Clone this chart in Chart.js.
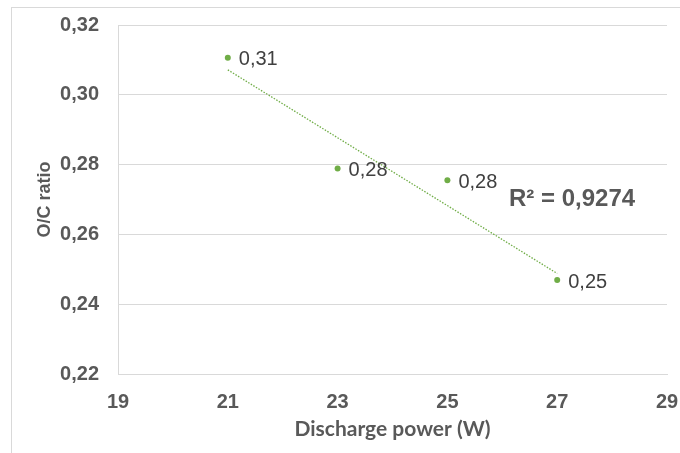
<!DOCTYPE html>
<html>
<head>
<meta charset="utf-8">
<script src="https://cdn.jsdelivr.net/npm/chart.js@4"></script>
<style>
    html, body { margin: 0; padding: 0; background: #fff; overflow: hidden; }
    #wrap { width: 680px; height: 453px; position: relative; }
</style>
</head>
<body>
<div id="wrap"><canvas id="chart" width="680" height="453"></canvas></div>
<script>
// ======================
// Данные
// ======================

const powerW = [21, 23, 25, 27];
const ocRatio = [0.3106, 0.2789, 0.2755, 0.2469];
const yTicks = [0.22, 0.24, 0.26, 0.28, 0.30, 0.32];
const xTicks = [19, 21, 23, 25, 27, 29];
const r2Text = 'R² = 0,9274';

const green = '#70ad47';
const gridGray = '#d9d9d9';

// Линейный тренд (МНК) по точкам
function linearTrend(xs, ys) {
    const n = xs.length;
    const mx = xs.reduce((a, b) => a + b, 0) / n;
    const my = ys.reduce((a, b) => a + b, 0) / n;
    let sxy = 0, sxx = 0;
    for (let i = 0; i < n; i++) {
        sxy += (xs[i] - mx) * (ys[i] - my);
        sxx += (xs[i] - mx) * (xs[i] - mx);
    }
    const k = sxy / sxx;
    const b = my - k * mx;
    return xs.map(x => ({ x: x, y: k * x + b }));
}

function comma(v) {
    return v.toFixed(2).replace('.', ',');
}

// ======================
// Плагины: рамка, подписи точек, R²
// ======================

const framePlugin = {
    id: 'frame',
    beforeDraw(chart) {
        const ctx = chart.ctx;
        ctx.save();
        ctx.strokeStyle = gridGray;
        ctx.lineWidth = 1;
        ctx.strokeRect(11.5, 7.5, 720, 500);
        ctx.restore();
    }
};

const labelsPlugin = {
    id: 'pointLabels',
    afterDatasetsDraw(chart) {
        const ctx = chart.ctx;
        const meta = chart.getDatasetMeta(0);
        ctx.save();
        ctx.font = '20px "Liberation Sans", Arial, sans-serif';
        ctx.fillStyle = '#404040';
        ctx.textAlign = 'left';
        ctx.textBaseline = 'middle';
        meta.data.forEach((pt, i) => {
            ctx.fillText(comma(ocRatio[i]), pt.x + 11, pt.y + 2);
        });
        // R²
        ctx.font = 'bold 24px "Liberation Sans", Arial, sans-serif';
        ctx.fillStyle = '#595959';
        ctx.fillText(r2Text, 509, 199);
        ctx.restore();
    }
};

// ======================
// График
// ======================

const tickFont = { family: '"Liberation Sans", Arial, sans-serif', size: 20, weight: 'bold' };

new Chart(document.getElementById('chart').getContext('2d'), {
    type: 'scatter',
    data: {
        datasets: [
            {
                data: powerW.map((x, i) => ({ x: x, y: ocRatio[i] })),
                backgroundColor: green,
                borderColor: green,
                pointRadius: 3,
                pointBorderWidth: 0,
                order: 1
            },
            {
                type: 'line',
                data: linearTrend(powerW, ocRatio).filter((p, i, a) => i === 0 || i === a.length - 1),
                borderColor: green,
                borderWidth: 1.3,
                borderDash: [1.5, 1.5],
                pointRadius: 0,
                fill: false,
                order: 2
            }
        ]
    },
    options: {
        responsive: false,
        animation: false,
        layout: { padding: { top: 25, right: 13, left: 0, bottom: 0 } },
        plugins: {
            legend: { display: false },
            tooltip: { enabled: false }
        },
        scales: {
            x: {
                type: 'linear',
                min: 19,
                max: 29,
                afterBuildTicks: s => { s.ticks = xTicks.map(v => ({ value: v })); },
                afterFit: s => { s.height = 79; s.paddingLeft = 0; s.paddingRight = 0; },
                grid: { display: false },
                border: { display: true, color: gridGray },
                ticks: { font: tickFont, color: '#595959', padding: 8, maxRotation: 0 },
                title: {
                    display: true,
                    text: 'Discharge power (W)',
                    color: '#595959',
                    font: { family: 'Lato, "Open Sans", sans-serif', size: 21, weight: 'bold' },
                    padding: { top: 0, bottom: 11 }
                }
            },
            y: {
                min: 0.22,
                max: 0.32,
                afterBuildTicks: s => { s.ticks = yTicks.map(v => ({ value: v })); },
                afterFit: s => { s.width = 118; s.paddingTop = 0; s.paddingBottom = 0; },
                grid: { color: gridGray, drawTicks: false, lineWidth: 1 },
                border: { display: true, color: gridGray },
                ticks: {
                    font: tickFont,
                    color: '#595959',
                    padding: 19,
                    callback: v => comma(v)
                },
                title: {
                    display: true,
                    text: 'O/C ratio',
                    color: '#595959',
                    font: { family: '"Liberation Sans", Arial, sans-serif', size: 18, weight: 'bold' },
                    padding: { top: 34, bottom: 0 }
                }
            }
        }
    },
    plugins: [framePlugin, labelsPlugin]
});
</script>
</body>
</html>
